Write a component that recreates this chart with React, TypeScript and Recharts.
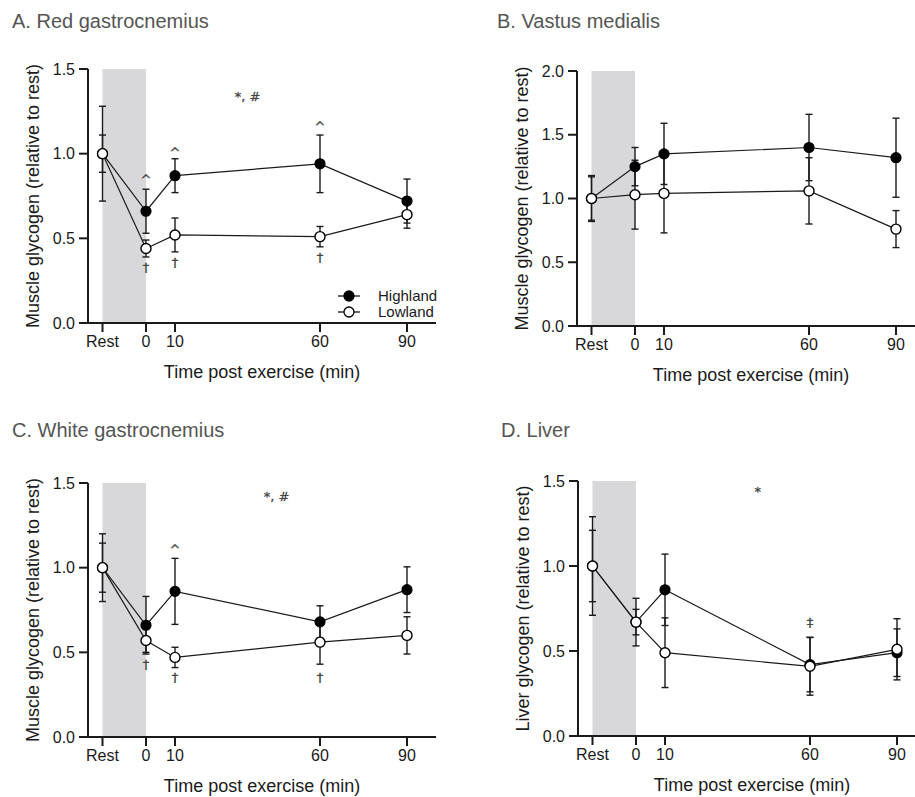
import React from 'react';
import {
  LineChart,
  Line,
  XAxis,
  YAxis,
  ErrorBar,
  ReferenceArea,
  ReferenceDot,
  Legend,
} from 'recharts';

// time points; "Rest" sits at -15 on the time scale
const timePoints = [-15, 0, 10, 60, 90];
const timeTicks = [-15, 0, 10, 60, 90];

// A. Red gastrocnemius
const redHigh = [1.0, 0.66, 0.87, 0.94, 0.72];
const redHighErr = [0.28, 0.13, 0.1, 0.17, 0.13];
const redLow = [1.0, 0.44, 0.52, 0.51, 0.64];
const redLowErr = [0.11, 0.05, 0.1, 0.06, 0.08];
const redNotes = [
  { x: 35, y: 1.34, text: '*, #' },
  { x: 0, y: 0.85, text: '^' },
  { x: 10, y: 1.01, text: '^' },
  { x: 60, y: 1.16, text: '^' },
  { x: 0, y: 0.33, text: '†' },
  { x: 10, y: 0.36, text: '†' },
  { x: 60, y: 0.39, text: '†' },
];

// B. Vastus medialis
const vastHigh = [1.0, 1.25, 1.35, 1.4, 1.32];
const vastHighErr = [0.18, 0.15, 0.24, 0.26, 0.31];
const vastLow = [1.0, 1.03, 1.04, 1.06, 0.76];
const vastLowErr = [0.17, 0.27, 0.31, 0.26, 0.145];

// C. White gastrocnemius
const whiteHigh = [1.0, 0.66, 0.86, 0.68, 0.87];
const whiteHighErr = [0.2, 0.17, 0.195, 0.095, 0.135];
const whiteLow = [1.0, 0.57, 0.47, 0.56, 0.6];
const whiteLowErr = [0.145, 0.07, 0.06, 0.13, 0.11];
const whiteNotes = [
  { x: 45, y: 1.42, text: '*, #' },
  { x: 10, y: 1.11, text: '^' },
  { x: 0, y: 0.43, text: '†' },
  { x: 10, y: 0.35, text: '†' },
  { x: 60, y: 0.35, text: '†' },
];

// D. Liver
const liverHigh = [1.0, 0.67, 0.86, 0.42, 0.49];
const liverHighErr = [0.29, 0.14, 0.21, 0.16, 0.14];
const liverLow = [1.0, 0.67, 0.49, 0.41, 0.51];
const liverLowErr = [0.21, 0.075, 0.205, 0.17, 0.18];
const liverNotes = [
  { x: 42, y: 1.44, text: '*' },
  { x: 60, y: 0.67, text: '‡' },
];

const FONT = '"Liberation Sans", Arial, sans-serif';
const INK = '#1a1a1a';

const LegendBox = () => (
  <div style={{ fontFamily: FONT, fontSize: 15, color: INK, lineHeight: '16px' }}>
    {[
      { name: 'Highland', fill: '#000' },
      { name: 'Lowland', fill: '#fff' },
    ].map((it) => (
      <div key={it.name} style={{ display: 'flex', alignItems: 'center' }}>
        <svg width={26} height={16} style={{ marginRight: 16 }}>
          <line x1={2} y1={8} x2={24} y2={8} stroke={INK} strokeWidth={1.3} />
          <circle cx={13} cy={8} r={5} fill={it.fill} stroke="#000" strokeWidth={1.3} />
        </svg>
        <span>{it.name}</span>
      </div>
    ))}
  </div>
);

type PanelProps = {
  title: string;
  yLabel: string;
  left: number;
  top: number;
  height: number;
  plotTop: number;
  plotBottom: number;
  yMax: number;
  yTicks: number[];
  high: number[];
  highErr: number[];
  low: number[];
  lowErr: number[];
  notes?: { x: number; y: number; text: string }[];
  legend?: boolean;
  titleLeft: number;
  titleTop: number;
};

const Panel = (p: PanelProps) => {
  const rows = timePoints.map((t, i) => ({
    t,
    high: p.high[i],
    highErr: p.highErr[i],
    low: p.low[i],
    lowErr: p.lowErr[i],
  }));
  const mTop = p.plotTop - p.top;
  const mBottom = p.height - (p.plotBottom - p.top) - 60;
  return (
    <>
      <div
        style={{
          position: 'absolute',
          left: p.titleLeft,
          top: p.titleTop,
          fontFamily: FONT,
          fontSize: 20,
          lineHeight: '20px',
          color: '#555',
          whiteSpace: 'nowrap',
        }}
      >
        {p.title}
      </div>
      <div style={{ position: 'absolute', left: p.left, top: p.top }}>
        <LineChart
          width={440}
          height={p.height}
          data={rows}
          margin={{ top: mTop, right: 4, bottom: mBottom, left: 0 }}
          style={{ fontFamily: FONT }}
        >
          <ReferenceArea
            x1={-15}
            x2={0}
            y1={0}
            y2={p.yMax}
            fill="#d8d8da"
            fillOpacity={1}
            stroke="none"
          />
          <XAxis
            dataKey="t"
            type="number"
            domain={[-20, 100]}
            ticks={timeTicks}
            allowDataOverflow
            height={60}
            tickSize={9}
            tickMargin={4}
            tickFormatter={(v: number) => (v === -15 ? 'Rest' : String(v))}
            axisLine={{ stroke: INK, strokeWidth: 2 }}
            tickLine={{ stroke: INK, strokeWidth: 2 }}
            tick={{ fill: INK, fontSize: 16 }}
            label={{
              value: 'Time post exercise (min)',
              position: 'insideBottom',
              offset: 5,
              fill: INK,
              fontSize: 18,
            }}
          />
          <YAxis
            type="number"
            domain={[0, p.yMax]}
            ticks={p.yTicks}
            width={88}
            tickSize={9}
            tickMargin={4}
            tickFormatter={(v: number) => v.toFixed(1)}
            axisLine={{ stroke: INK, strokeWidth: 2 }}
            tickLine={{ stroke: INK, strokeWidth: 2 }}
            tick={{ fill: INK, fontSize: 16 }}
            label={{
              value: p.yLabel,
              angle: -90,
              position: 'insideLeft',
              offset: 33,
              fill: INK,
              fontSize: 18,
              style: { textAnchor: 'middle' },
            }}
          />
          <Line
            dataKey="high"
            type="linear"
            stroke={INK}
            strokeWidth={1.2}
            dot={{ r: 5, fill: '#000', stroke: '#000', strokeWidth: 1.2 }}
            isAnimationActive={false}
          >
            <ErrorBar dataKey="highErr" direction="y" width={3.5} stroke={INK} strokeWidth={1.4} />
          </Line>
          <Line
            dataKey="low"
            type="linear"
            stroke={INK}
            strokeWidth={1.2}
            dot={{ r: 5, fill: '#fff', stroke: '#000', strokeWidth: 1.4 }}
            isAnimationActive={false}
          >
            <ErrorBar dataKey="lowErr" direction="y" width={3.5} stroke={INK} strokeWidth={1.4} />
          </Line>
          {(p.notes || []).map((n, i) => (
            <ReferenceDot
              key={i}
              x={n.x}
              y={n.y}
              r={0}
              fill="none"
              stroke="none"
              label={{
                value: n.text,
                position: 'center',
                fill: '#444',
                stroke: '#444',
                strokeWidth: 0.3,
                fontSize: 13,
                fontFamily: '"DejaVu Sans", sans-serif',
              }}
            />
          ))}
          {p.legend && (
            <Legend
              layout="vertical"
              align="center"
              verticalAlign="middle"
              wrapperStyle={{ left: 336, top: 288, width: 110 }}
              content={() => <LegendBox />}
            />
          )}
        </LineChart>
      </div>
    </>
  );
};

const App = () => (
  <div
    style={{
      position: 'fixed',
      left: 0,
      top: 0,
      width: 915,
      height: 797,
      overflow: 'hidden',
      background: '#fff',
    }}
  >
    <Panel
      title="A. Red gastrocnemius"
      yLabel="Muscle glycogen (relative to rest)"
      left={0}
      top={0}
      height={395}
      plotTop={69}
      plotBottom={323}
      yMax={1.5}
      yTicks={[0, 0.5, 1, 1.5]}
      high={redHigh}
      highErr={redHighErr}
      low={redLow}
      lowErr={redLowErr}
      notes={redNotes}
      legend
      titleLeft={12}
      titleTop={11}
    />
    <Panel
      title="B. Vastus medialis"
      yLabel="Muscle glycogen (relative to rest)"
      left={489}
      top={0}
      height={395}
      plotTop={71}
      plotBottom={326}
      yMax={2}
      yTicks={[0, 0.5, 1, 1.5, 2]}
      high={vastHigh}
      highErr={vastHighErr}
      low={vastLow}
      lowErr={vastLowErr}
      titleLeft={497}
      titleTop={11}
    />
    <Panel
      title="C. White gastrocnemius"
      yLabel="Muscle glycogen (relative to rest)"
      left={0}
      top={395}
      height={402}
      plotTop={483}
      plotBottom={737}
      yMax={1.5}
      yTicks={[0, 0.5, 1, 1.5]}
      high={whiteHigh}
      highErr={whiteHighErr}
      low={whiteLow}
      lowErr={whiteLowErr}
      notes={whiteNotes}
      titleLeft={12}
      titleTop={420}
    />
    <Panel
      title="D. Liver"
      yLabel="Liver glycogen (relative to rest)"
      left={490}
      top={395}
      height={402}
      plotTop={481}
      plotBottom={736}
      yMax={1.5}
      yTicks={[0, 0.5, 1, 1.5]}
      high={liverHigh}
      highErr={liverHighErr}
      low={liverLow}
      lowErr={liverLowErr}
      notes={liverNotes}
      titleLeft={501}
      titleTop={420}
    />
  </div>
);

export default App;
